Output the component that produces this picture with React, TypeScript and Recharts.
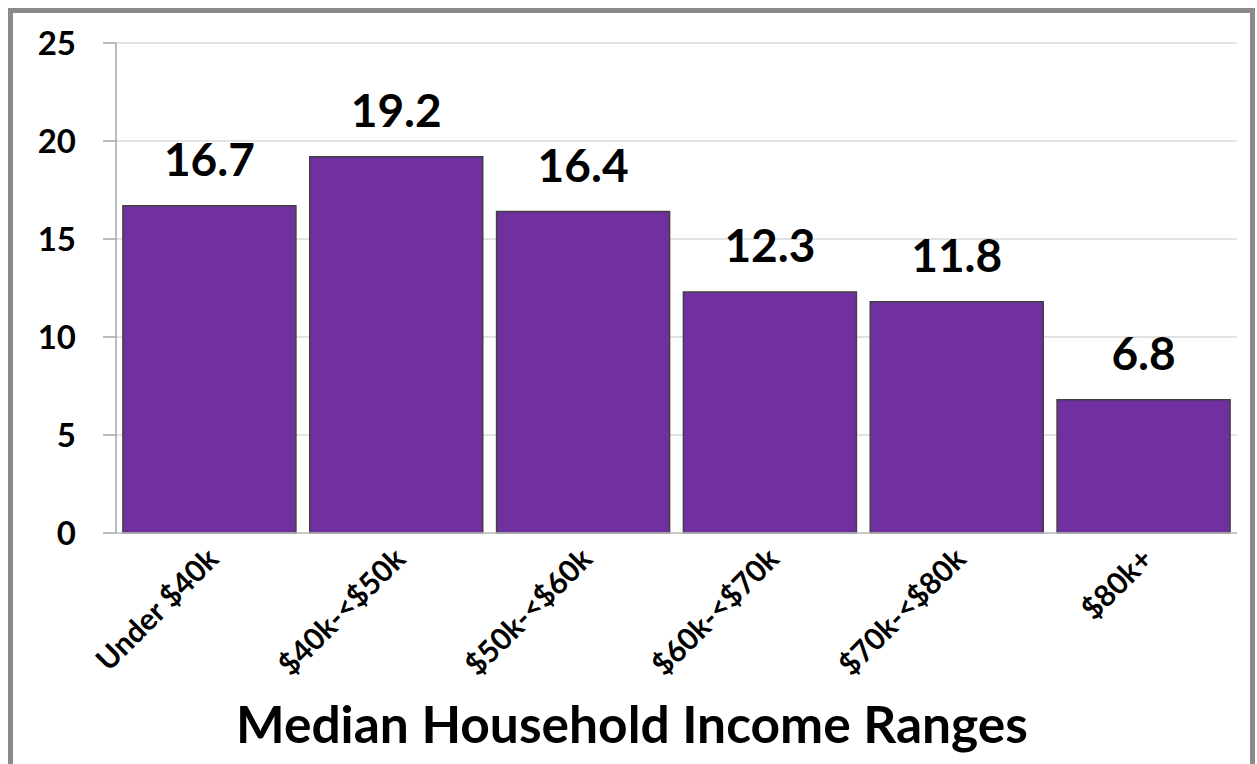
import { BarChart, Bar, XAxis, YAxis, CartesianGrid, LabelList, Label } from "recharts";

const incomeRanges = ["Under $40k", "$40k-<$50k", "$50k-<$60k", "$60k-<$70k", "$70k-<$80k", "$80k+"];
const values = [16.7, 19.2, 16.4, 12.3, 11.8, 6.8];
const yTicks = [0, 5, 10, 15, 20, 25];

const data = incomeRanges.map((range, i) => ({ range, value: values[i] }));

const FONT = "Lato, 'Open Sans', sans-serif";

function RangeTick(props: any) {
  const { x, y, payload } = props;
  return (
    <g transform={`translate(${x + 11},${y + 28})`}>
      <text
        x={0}
        y={0}
        transform="rotate(-45)"
        textAnchor="end"
        fontFamily={FONT}
        fontWeight={700}
        fontSize={30}
        fill="#000"
      >
        {payload.value}
      </text>
    </g>
  );
}

export default function App() {
  return (
    <div
      style={{
        position: "absolute",
        left: 0,
        top: 0,
        width: 1257,
        height: 764,
        background: "#fff",
        overflow: "hidden",
      }}
    >
      {/* grey frame, bottom edge runs off the page */}
      <div
        style={{
          position: "absolute",
          left: 8,
          top: 8,
          width: 1237,
          height: 800,
          border: "5px solid #8a8a8a",
        }}
      />
      <div style={{ position: "absolute", left: 0, top: 0 }}>
        <BarChart
          width={1257}
          height={764}
          data={data}
          margin={{ top: 43, right: 20, left: 0, bottom: 0 }}
          barCategoryGap="3.7%"
        >
          <CartesianGrid horizontal vertical={false} stroke="#d9d9d9" strokeWidth={1.5} />
          <XAxis
            dataKey="range"
            height={231}
            interval={0}
            tickLine={false}
            tickSize={0}
            tickMargin={0}
            axisLine={{ stroke: "#bfbfbf", strokeWidth: 1.5 }}
            tick={<RangeTick />}
          >
            <Label
              content={() => (
                <text
                  x={632}
                  y={743}
                  textAnchor="middle"
                  fontFamily={FONT}
                  fontWeight={700}
                  fontSize={51.5}
                  fill="#000"
                >
                  Median Household Income Ranges
                </text>
              )}
            />
          </XAxis>
          <YAxis
            width={116}
            domain={[0, 25]}
            ticks={yTicks}
            interval={0}
            tickSize={13}
            tickMargin={27}
            axisLine={{ stroke: "#a6a6a6", strokeWidth: 1.5 }}
            tickLine={{ stroke: "#a6a6a6", strokeWidth: 1.5 }}
            tick={{ fill: "#000", fontFamily: FONT, fontWeight: 700, fontSize: 33 }}
          />
          <Bar dataKey="value" fill="#7030A0" stroke="#404040" strokeWidth={1.5} isAnimationActive={false}>
            <LabelList
              dataKey="value"
              position="top"
              offset={30}
              fill="#000"
              fontFamily={FONT}
              fontWeight={700}
              fontSize={46}
            />
          </Bar>
        </BarChart>
      </div>
    </div>
  );
}
